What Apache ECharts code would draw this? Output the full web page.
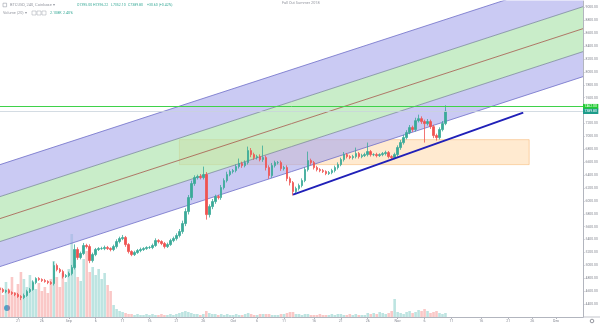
<!DOCTYPE html>
<html><head><meta charset="utf-8">
<script src="https://cdn.jsdelivr.net/npm/echarts/dist/echarts.min.js"></script>
<style>html,body{margin:0;padding:0;background:#fff}#c{width:600px;height:325px}</style>
</head><body><div id="c"></div><script>
// ---- data ----
const firstOpen = 4640;
const closes = [
4626,4594,4610,4579,4564,4548,4517,4502,4533,4594,
4626,4734,4796,4781,4765,4750,4734,4719,4998,4936,
4905,4827,4843,4874,4967,5246,5122,5184,5308,5292,
5075,5168,5246,5261,5261,5277,5261,5246,5292,5370,
5416,5432,5323,5215,5168,5199,5230,5246,5261,5277,
5277,5308,5385,5370,5339,5292,5323,5385,5416,5463,
5525,5649,5835,6052,6269,6362,6377,6362,6408,5788,
5912,5990,6067,6052,6207,6315,6408,6455,6470,6532,
6579,6548,6594,6780,6718,6672,6687,6641,6672,6517,
6393,6548,6594,6594,6501,6517,6346,6284,6145,6191,
6238,6315,6486,6625,6594,6517,6486,6470,6455,6424,
6439,6470,6517,6563,6641,6718,6687,6672,6687,6734,
6687,6703,6718,6765,6718,6718,6703,6718,6734,6749,
6687,6672,6718,6827,6904,6982,7059,7137,7106,7245,
7276,7230,7199,7230,7152,7013,6982,7106,7199,7389.8
];
const wickUp = [
20,25,15,30,20,18,25,22,30,28, 25,35,20,22,18,25,20,22,60,30,
25,28,22,30,40,80,35,30,40,28, 35,30,25,22,28,30,25,20,30,35,
30,40,25,22,20,28,25,30,22,20, 25,30,35,22,20,25,30,28,30,35,
40,45,50,40,45,35,30,40,124,40, 35,40,30,28,40,35,45,30,25,35,
78,30,35,62,40,30,28,35,186,30, 35,40,30,25,30,28,35,30,25,30,
30,35,40,140,30,25,28,22,25,20, 25,28,30,35,30,40,25,22,28,93,
25,28,30,140,25,22,28,20,25,30, 25,22,30,35,40,45,38,40,30,45,
62,35,30,40,30,28,30,35,40,93
];
const wickDn = [
22,20,25,18,22,25,20,40,25,20, 22,18,25,20,22,18,25,20,30,28,
25,30,22,25,28,30,35,28,25,30, 40,30,25,22,20,25,22,28,25,30,
28,25,35,30,25,22,20,25,22,20, 22,25,20,28,25,30,22,20,25,30,
30,35,40,45,40,35,30,28,30,78, 45,40,35,30,35,30,28,25,30,28,
30,35,28,30,40,35,30,28,35,45, 50,35,30,28,35,30,40,45,62,35,
30,28,25,30,35,30,28,25,22,25, 22,25,28,30,25,30,28,25,30,28,
30,25,22,28,30,25,28,22,25,30, 28,30,25,30,35,30,28,25,35,30,
28,35,294,30,35,40,46,30,28,25
];
const volumes = [
15760,11560,18390,14710,21010,13130,17340,23640,19960,15760,
22060,18910,14710,17860,13660,15760,12610,19960,29420,21010,
15760,23110,18390,25210,43600,27320,21010,18910,30470,34670,
23640,26270,22060,25210,19960,23110,16810,13660,6300,4200,
3150,2630,2100,1580,1580,1050,1580,1050,1050,1580,
1050,1580,1050,1050,1580,1050,1050,1580,1050,1580,
2100,2630,3150,2630,2100,1580,1580,1050,1580,3150,
2100,1580,1580,1050,1580,1050,1580,1050,1050,1580,
1050,1050,1580,2100,1580,1050,1050,1580,1580,1580,
1580,1050,1050,1050,1580,1580,2100,2630,2630,1580,
1580,1050,1580,1580,1050,1050,1050,1580,1050,1050,
1050,1580,1050,1580,1580,1050,1050,1580,1050,1580,
1050,1050,1050,2100,1580,2100,1580,2630,2100,1580,
2100,3150,9460,2630,2100,1580,2630,3150,2100,2630,
3680,3150,4200,3150,2100,2630,3150,2100,1580,2108
];
const totalSlots = 196;               // bars + empty future space
const timeTickIdx = [6,14,23,32,41,50,59,68,78,86,95,105,114,123,133,142,151,161,170,178,186];
const timeTickText = ['21','26','Sep','6','11','16','21','26','Oct','6','11','16','21','26','Nov','6','11','16','21','26','Dec'];
// channel lines (top L1 .. bottom L5): price at first slot / at last slot
const channelStart = [6563,6067,5726,5370,4982];
const channelEnd   = [9508,9012,8671,8315,7927];
const zoneX = [60,177];
const zoneY = [6950,6563];
const supportX = [98,175];
const supportY = [6098,7369];
const levelPrice = 7462;
const lastPrice = 7389.8;

// ---- build ----
const cats = Array.from({length: totalSlots}, (_, i) => String(i));
const labelMap = {};
timeTickIdx.forEach((ix, k) => labelMap[ix] = timeTickText[k]);
const ohlc = closes.map((c, i) => {
  const o = i ? closes[i-1] : firstOpen;
  return [o, c, Math.min(o,c) - wickDn[i], Math.max(o,c) + wickUp[i]];
});
const volData = volumes.map((v, i) => ({
  value: v,
  itemStyle: {color: ohlc[i][1] >= ohlc[i][0] ? 'rgba(38,166,154,0.30)' : 'rgba(239,83,80,0.32)'}
}));
const last = totalSlots - 1;
const PURPLE = 'rgba(170,170,235,0.62)';
const GREEN = 'rgba(175,228,175,0.68)';
function chanSeries(k, area, lineColor) {
  const s0 = k === 4 ? channelStart[4] : channelStart[k] - channelStart[k+1];
  const s1 = k === 4 ? channelEnd[4] : channelEnd[k] - channelEnd[k+1];
  const s = {
    type: 'line', stack: 'chan', symbol: 'none', silent: true, z: 1,
    data: [[0, s0], [last, s1]],
    lineStyle: {color: lineColor, width: 0.8}
  };
  if (area) s.areaStyle = {color: area, opacity: 1};
  return s;
}
const series = [
  {type: 'bar', yAxisIndex: 1, data: volData, barWidth: 2.6, z: 0, silent: true},
  chanSeries(4, null, '#6e6ec8'),
  chanSeries(3, PURPLE, '#7c8c9c'),
  chanSeries(2, GREEN, '#a4584a'),
  chanSeries(1, GREEN, '#7c8c9c'),
  chanSeries(0, PURPLE, '#6e6ec8'),
  {type: 'line', data: [], z: 2, silent: true,
   markArea: {silent: true, itemStyle: {color: 'rgba(255,160,40,0.22)', borderColor: 'rgba(245,170,90,0.8)', borderWidth: 0.6},
     data: [[{xAxis: zoneX[0], yAxis: zoneY[0]}, {xAxis: zoneX[1], yAxis: zoneY[1]}]]}},
  {type: 'candlestick', data: ohlc, barWidth: 2, z: 3,
   itemStyle: {color: '#3aaa98', color0: '#ef5350', borderColor: '#3aaa98', borderColor0: '#ef5350', borderWidth: 0.8},
   markLine: {symbol: 'none', silent: true, animation: false,
     data: [
      {yAxis: levelPrice, lineStyle: {color: '#3fd24a', width: 1, type: 'solid'},
       label: {show: true, position: 'end', distance: 0, formatter: levelPrice.toFixed(2), color: '#fff',
         backgroundColor: '#22cc33', fontSize: 3.4, padding: [1.2, 1.5], fontFamily: 'Roboto'}},
      {yAxis: lastPrice, lineStyle: {color: '#c9d3dc', width: 0.8, type: 'solid'},
       label: {show: true, position: 'end', distance: 0, formatter: lastPrice.toFixed(2), color: '#fff',
         backgroundColor: '#1d9c8a', fontSize: 3.4, padding: [1.2, 1.5], fontFamily: 'Roboto'}}
     ]}},
  {type: 'line', data: [[supportX[0], supportY[0]], [supportX[1], supportY[1]]], symbol: 'none', z: 4, silent: true,
   lineStyle: {color: '#2020b8', width: 2}}
];

const txt = (text, x, y, fill, size, weight) => ({type: 'text', silent: true, z: 100,
  style: {text, x, y, fill, font: (weight||'normal') + ' ' + size + 'px Roboto', verticalAlign: 'middle'}});
const chart = echarts.init(document.getElementById('c'), null, {renderer: 'canvas'});
chart.setOption({
  animation: false,
  backgroundColor: '#ffffff',
  grid: {left: 0, right: 17, top: 1, height: 316, containLabel: false, outerBoundsMode: 'none'},
  xAxis: {type: 'category', data: cats, boundaryGap: false,
    axisLine: {lineStyle: {color: '#b2b5be', width: 1}},
    axisTick: {show: true, length: 2, interval: (i) => labelMap[i] !== undefined, lineStyle: {color: '#b2b5be'}},
    axisLabel: {interval: (i) => labelMap[i] !== undefined,
      formatter: (v, i) => labelMap[i] || '',
      fontSize: 3.6, color: '#868993', margin: 2.5, fontFamily: 'Roboto'},
    splitLine: {show: false}},
  yAxis: [
    {type: 'value', position: 'right', min: 4200, max: 9100, interval: 200,
     axisLine: {show: true, lineStyle: {color: '#b2b5be'}},
     axisTick: {show: true, length: 1.5, lineStyle: {color: '#b2b5be'}},
     axisLabel: {fontSize: 3.4, color: '#868993', margin: 2.5, showMinLabel: false, showMaxLabel: false,
       fontFamily: 'Roboto', formatter: v => v.toFixed(2)},
     splitLine: {show: false}},
    {type: 'value', min: 0, max: 166000, show: false, splitLine: {show: false}}
  ],
  series,
  graphic: [
    {type: 'rect', silent: true, shape: {x: 3, y: 3.2, width: 3.6, height: 3.6}, style: {fill: 'none', stroke: '#9aa0aa', lineWidth: 0.6}},
    txt('BTCUSD, 240, Coinbase ▾', 10, 5, '#9598a1', 4),
    txt('O7395.00', 77, 5, '#3aaa98', 3.5),
    txt('H7396.22', 93, 5, '#3aaa98', 3.5),
    txt('L7352.10', 111, 5, '#3aaa98', 3.5),
    txt('C7389.80', 128, 5, '#3aaa98', 3.5),
    txt('+30.60 (+0.42%)', 147, 5, '#3aaa98', 3.5),
    txt('Volume (20) ▾', 3, 13, '#9598a1', 3.8),
    {type: 'rect', silent: true, shape: {x: 32, y: 11, width: 4, height: 4}, style: {fill: 'none', stroke: '#a0a4ac', lineWidth: 0.5}},
    {type: 'rect', silent: true, shape: {x: 37, y: 11, width: 4, height: 4}, style: {fill: 'none', stroke: '#a0a4ac', lineWidth: 0.5}},
    {type: 'rect', silent: true, shape: {x: 42, y: 11, width: 4, height: 4}, style: {fill: 'none', stroke: '#a0a4ac', lineWidth: 0.5}},
    txt('2.108K', 50, 13, '#3aaa98', 3.7),
    txt('2.40%', 63, 13, '#3aaa98', 3.7),
    txt('Fall Out Summer 2018', 282, 3.5, '#9598a1', 3.8),
    {type: 'circle', silent: true, shape: {cx: 7, cy: 308, r: 3}, style: {fill: '#5fa2d6'}},
    {type: 'line', silent: true, shape: {x1: 583, y1: 317, x2: 600, y2: 317}, style: {stroke: '#b2b5be', lineWidth: 0.8}},
    {type: 'circle', silent: true, shape: {cx: 592, cy: 321, r: 1.8}, style: {fill: 'none', stroke: '#6a6d78', lineWidth: 0.7}}
  ]
});
</script></body></html>
